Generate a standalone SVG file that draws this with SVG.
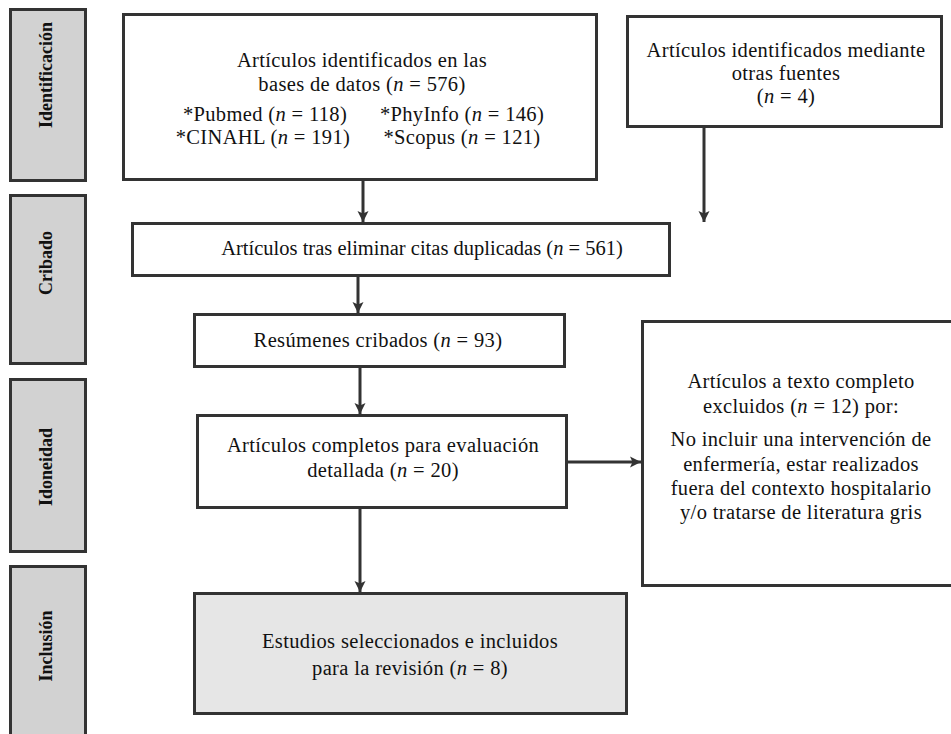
<svg xmlns="http://www.w3.org/2000/svg" width="951" height="734" viewBox="0 0 951 734">
<style>
.box{fill:#fff;stroke:#333;stroke-width:3}
.lab{fill:#d2d2d2;stroke:#333;stroke-width:3}
.fin{fill:#e6e6e6;stroke:#333;stroke-width:3}
.t{font-family:"Liberation Serif","Times New Roman",serif;font-size:20.5px;fill:#111;text-anchor:middle;letter-spacing:0.35px}
.lt{font-family:"Liberation Serif","Times New Roman",serif;font-size:18px;font-weight:bold;fill:#111;text-anchor:middle}
.i{font-style:italic}
.c{stroke:#333;stroke-width:3;fill:none;marker-end:url(#ah)}
</style>
<defs>
<marker id="ah" markerUnits="userSpaceOnUse" markerWidth="12" markerHeight="12" refX="11" refY="6" orient="auto">
<path d="M0,0.5 L11,6 L0,11.5 L2.5,6 z" fill="#333"/>
</marker>
</defs>
<rect width="951" height="734" fill="#fff"/>
<g id="lab-identificacion"><rect class="lab" x="10.5" y="9.5" width="75" height="171"/><text class="lt" transform="translate(52,75) rotate(-90)">Identificación</text></g>
<g id="lab-cribado"><rect class="lab" x="10.5" y="195.5" width="75" height="168"/><text class="lt" transform="translate(52,263) rotate(-90)">Cribado</text></g>
<g id="lab-idoneidad"><rect class="lab" x="10.5" y="379.5" width="75" height="172"/><text class="lt" transform="translate(52,467) rotate(-90)">Idoneidad</text></g>
<g id="lab-inclusion"><rect class="lab" x="10.5" y="566.5" width="75" height="200"/><text class="lt" transform="translate(52,646) rotate(-90)">Inclusión</text></g>

<g id="n-bases"><rect class="box" x="123.5" y="14.5" width="473" height="165"/>
<text class="t" x="362" y="67">Artículos identificados en las</text>
<text class="t" x="362" y="91">bases de datos (<tspan class="i">n</tspan> = 576)</text>
<text class="t" x="265" y="121">*Pubmed (<tspan class="i">n</tspan> = 118)</text>
<text class="t" x="462" y="121">*PhyInfo (<tspan class="i">n</tspan> = 146)</text>
<text class="t" x="263" y="144">*CINAHL (<tspan class="i">n</tspan> = 191)</text>
<text class="t" x="462" y="144">*Scopus (<tspan class="i">n</tspan> = 121)</text>
</g>
<g id="n-otras"><rect class="box" x="627.5" y="16.5" width="314" height="110"/>
<text class="t" x="786" y="57">Artículos identificados mediante</text>
<text class="t" x="786" y="80">otras fuentes</text>
<text class="t" x="786" y="103">(<tspan class="i">n</tspan> = 4)</text>
</g>
<g id="n-dup"><rect class="box" x="132.5" y="223.5" width="537" height="52"/>
<text class="t" x="422" y="255" style="letter-spacing:0">Artículos tras eliminar citas duplicadas (<tspan class="i">n</tspan> = 561)</text>
</g>
<g id="n-res"><rect class="box" x="194.5" y="314.5" width="370" height="52"/>
<text class="t" x="378" y="347">Resúmenes cribados (<tspan class="i">n</tspan> = 93)</text>
</g>
<g id="n-comp"><rect class="box" x="197.5" y="415.5" width="369" height="92"/>
<text class="t" x="383" y="452">Artículos completos para evaluación</text>
<text class="t" x="383" y="477">detallada (<tspan class="i">n</tspan> = 20)</text>
</g>
<g id="n-excl"><rect class="box" x="642.5" y="321.5" width="320" height="264"/>
<text class="t" x="801" y="388">Artículos a texto completo</text>
<text class="t" x="801" y="413">excluidos (<tspan class="i">n</tspan> = 12) por:</text>
<text class="t" x="801" y="446">No incluir una intervención de</text>
<text class="t" x="801" y="471">enfermería, estar realizados</text>
<text class="t" x="801" y="495">fuera del contexto hospitalario</text>
<text class="t" x="801" y="519">y/o tratarse de literatura gris</text>
</g>
<g id="n-final"><rect class="fin" x="194.5" y="593.5" width="432" height="120"/>
<text class="t" x="410" y="648">Estudios seleccionados e incluidos</text>
<text class="t" x="410" y="675">para la revisión (<tspan class="i">n</tspan> = 8)</text>
</g>

<g id="connectors">
<line class="c" x1="363" y1="181" x2="363" y2="222"/>
<line class="c" x1="704" y1="128" x2="704" y2="222"/>
<line class="c" x1="358" y1="277" x2="358" y2="313"/>
<line class="c" x1="360" y1="368" x2="360" y2="414"/>
<line class="c" x1="568" y1="462" x2="641" y2="462"/>
<line class="c" x1="360" y1="509" x2="360" y2="592"/>
</g>
</svg>
